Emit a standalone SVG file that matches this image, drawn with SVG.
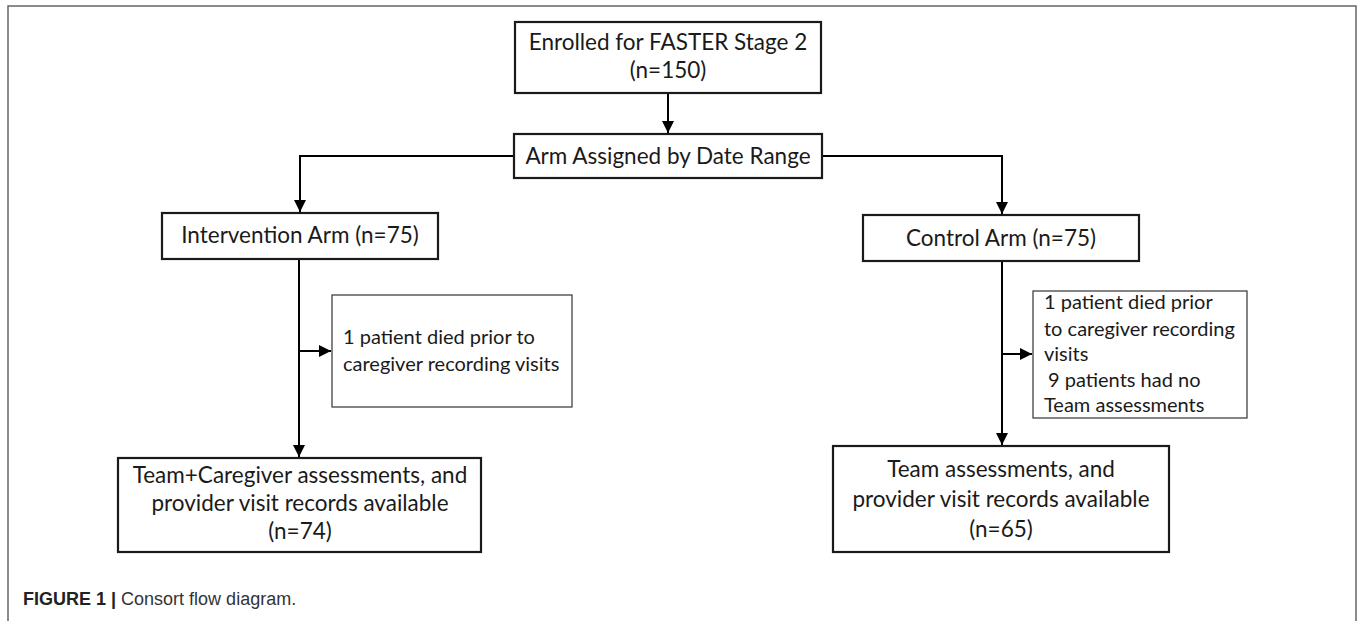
<svg xmlns="http://www.w3.org/2000/svg" width="1357" height="621" viewBox="0 0 1357 621">
<defs>
<marker id="ah" markerWidth="12" markerHeight="12" refX="12" refY="6" orient="auto" markerUnits="userSpaceOnUse">
<path d="M0,0 L12,6 L0,12 Z" fill="#000"/>
</marker>
<style>
.box{fill:#fff;stroke:#1a1a1a;stroke-width:2.2}
.thin{fill:#fff;stroke:#333;stroke-width:1.2}
.t{font-family:Lato,"Liberation Sans",sans-serif;font-size:22.5px;fill:#1a1a1a}
.s{font-family:Lato,"Liberation Sans",sans-serif;font-size:20px;fill:#1a1a1a}
.c{text-anchor:middle}
.ln{fill:none;stroke:#000;stroke-width:2}
.cap{font-family:"Liberation Sans",Arial,sans-serif;font-size:18px;fill:#333}
</style>
</defs>
<rect x="0" y="0" width="1357" height="621" fill="#fff"/>
<path d="M8,621 V6 H1356 V621" fill="none" stroke="#666" stroke-width="1.5"/>
<g id="connectors">
<line class="ln" x1="668" y1="93" x2="668" y2="133" marker-end="url(#ah)"/>
<polyline class="ln" points="514,156 300,156 300,212" marker-end="url(#ah)"/>
<polyline class="ln" points="822,156 1002,156 1002,214" marker-end="url(#ah)"/>
<line class="ln" x1="299" y1="259" x2="299" y2="457" marker-end="url(#ah)"/>
<line class="ln" x1="299" y1="351" x2="331" y2="351" marker-end="url(#ah)"/>
<line class="ln" x1="1002" y1="261" x2="1002" y2="445" marker-end="url(#ah)"/>
<line class="ln" x1="1002" y1="354" x2="1032" y2="354" marker-end="url(#ah)"/>
</g>
<g id="enrolled">
<rect class="box" x="515" y="22" width="306" height="71"/>
<text class="t c" x="668" y="50">Enrolled for FASTER Stage 2</text>
<text class="t c" x="668" y="78">(n=150)</text>
</g>
<g id="assigned">
<rect class="box" x="514" y="134" width="308" height="44"/>
<text class="t c" x="668" y="164">Arm Assigned by Date Range</text>
</g>
<g id="intervention">
<rect class="box" x="162" y="213" width="276" height="46"/>
<text class="t c" x="300" y="243">Intervention Arm (n=75)</text>
</g>
<g id="control">
<rect class="box" x="863" y="215" width="276" height="46"/>
<text class="t c" x="1001" y="246">Control Arm (n=75)</text>
</g>
<g id="excl-intervention">
<rect class="thin" x="332" y="295" width="240" height="112"/>
<text class="s" x="343" y="344">1 patient died prior to</text>
<text class="s" x="343" y="371">caregiver recording visits</text>
</g>
<g id="excl-control">
<rect class="thin" x="1033" y="291" width="214" height="127"/>
<text class="s" x="1044" y="309">1 patient died prior</text>
<text class="s" x="1044" y="336">to caregiver recording</text>
<text class="s" x="1044" y="361">visits</text>
<text class="s" x="1048" y="387">9 patients had no</text>
<text class="s" x="1044" y="412">Team assessments</text>
</g>
<g id="final-intervention">
<rect class="box" x="118" y="458" width="363" height="94"/>
<text class="t c" x="300" y="483">Team+Caregiver assessments, and</text>
<text class="t c" x="300" y="511">provider visit records available</text>
<text class="t c" x="300" y="539">(n=74)</text>
</g>
<g id="final-control">
<rect class="box" x="833" y="446" width="336" height="106"/>
<text class="t c" x="1001" y="477">Team assessments, and</text>
<text class="t c" x="1001" y="507">provider visit records available</text>
<text class="t c" x="1001" y="537">(n=65)</text>
</g>
<g id="caption">
<text class="cap" x="23" y="605"><tspan font-weight="bold" fill="#222">FIGURE 1</tspan> <tspan font-weight="bold" fill="#222">|</tspan> Consort flow diagram.</text>
</g>
</svg>
